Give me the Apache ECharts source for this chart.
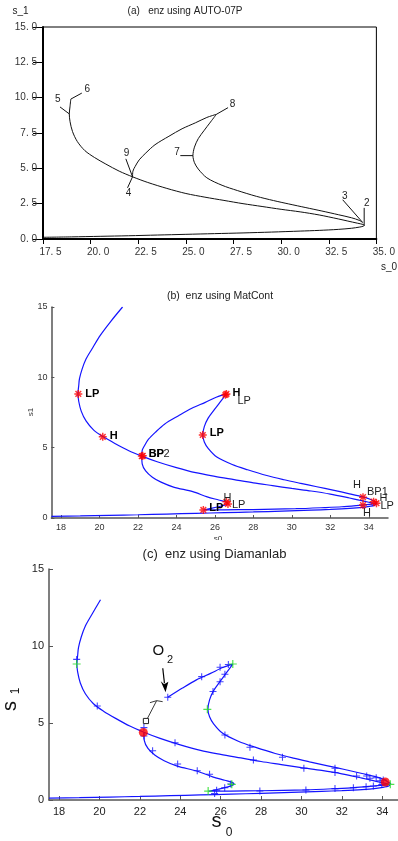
<!DOCTYPE html>
<html><head><meta charset="utf-8">
<script src="https://cdn.jsdelivr.net/npm/echarts@6/dist/echarts.min.js"></script>
<style>html,body{margin:0;padding:0;background:#fff}#c{width:398px;height:841px}</style>
</head><body><div id="c"></div>
<script>
// ---- main equilibrium branch (s0, s1), from lower-left through the fold back up ----
const mainS0 = [17.5, 19, 20.5, 22, 23.5, 25, 26.5, 28, 29.5, 31, 32, 33, 33.7, 34.1, 34.3, 34.37, 34.3, 34.0, 33.5, 33.0, 32.0, 31.0, 30.0, 29.0, 28.0, 27.0, 26.0, 25.0, 24.0, 23.0, 22.2, 21.5, 20.8, 20.2, 19.7, 19.3, 19.05, 18.92, 18.88, 18.92, 18.96, 19.1, 19.3, 19.6, 20.05, 20.6, 21.2];
const mainS1 = [0.12, 0.15, 0.19, 0.23, 0.28, 0.33, 0.38, 0.43, 0.49, 0.56, 0.61, 0.68, 0.76, 0.84, 0.9, 0.97, 1.03, 1.12, 1.27, 1.42, 1.7, 1.92, 2.1, 2.3, 2.5, 2.73, 2.96, 3.22, 3.58, 4.0, 4.4, 4.8, 5.3, 5.77, 6.25, 6.9, 7.6, 8.3, 8.85, 9.4, 9.9, 10.6, 11.3, 12.0, 13.0, 14.0, 15.0];
const autoMainCount = 41;   // AUTO-07P run stops at label 6
const diaMainCount = 45;    // Diamanlab run stops at s1 = 13

// ---- second branch (closed loop through the branch point) ----
const isoS0 = [22.2, 22.22, 22.34, 22.55, 22.9, 23.38, 24.11, 24.8, 25.5, 26.1, 26.6, 26.25, 25.97, 25.65, 25.45, 25.37, 25.45, 25.65, 26.1, 26.9, 27.7, 28.7, 29.6, 30.4, 31.3, 32.14, 33.0, 33.7, 34.1, 34.28, 34.42, 34.2, 33.6, 32.6, 31.7, 30.2, 28.0, 26.5, 25.8, 25.4, 25.8, 26.2, 26.5, 26.66, 26.6, 26.2, 25.6, 24.85, 23.85, 23.2, 22.75, 22.4, 22.22, 22.2];
const isoS1 = [4.4, 4.8, 5.14, 5.6, 6.09, 6.67, 7.27, 7.8, 8.22, 8.6, 8.82, 8.2, 7.7, 7.1, 6.5, 5.9, 5.4, 4.95, 4.33, 3.8, 3.43, 3.02, 2.72, 2.48, 2.22, 1.98, 1.72, 1.5, 1.32, 1.17, 1.05, 0.98, 0.91, 0.8, 0.74, 0.66, 0.6, 0.58, 0.57, 0.57, 0.68, 0.8, 0.92, 1.02, 1.13, 1.28, 1.5, 1.87, 2.2, 2.55, 2.9, 3.35, 3.85, 4.4];
const autoIsoCount = 30;    // AUTO-07P: BP -> 8 -> 7 -> 3
const diaIsoStart = 5;      // Diamanlab: starts at O_2

// ---- (a) AUTO-07P labelled points ----
const autoLabText = ['2', '3', '8', '7', '9', '4', '5', '6'];
const autoLabS0 = [34.36, 34.28, 26.6, 25.37, 22.2, 22.2, 18.88, 18.96];
const autoLabS1 = [0.95, 1.17, 8.82, 5.9, 4.4, 4.4, 8.85, 9.9];

// ---- (b) MatCont special points ----
const mcPtS0 = [18.9, 20.17, 22.2, 22.25, 26.6, 26.55, 25.37, 26.6, 26.68, 25.4, 33.7, 34.25, 34.4, 33.7];
const mcPtS1 = [8.82, 5.77, 4.4, 4.42, 8.82, 8.76, 5.9, 1.15, 1.0, 0.57, 1.48, 1.16, 1.05, 0.92];
const mcLabText = ['LP', 'H', 'BP2', 'BP', 'H', 'LP', 'LP', 'H', 'LP', 'LP', 'H', 'BP1', 'H', 'LP', 'H'];
const mcLabS0 = [18.9, 20.17, 22.2, 22.2, 26.6, 26.6, 25.37, 26.6, 26.68, 25.4, 33.7, 33.7, 34.25, 34.4, 33.7];
const mcLabS1 = [8.82, 5.77, 4.4, 4.4, 8.82, 8.82, 5.9, 1.15, 1.0, 0.57, 1.48, 1.48, 1.16, 1.05, 0.92];

// ---- (c) Diamanlab points ----
const diaPlusS0 = [18.87, 19.89, 22.2, 22.2, 23.74, 27.62, 30.12, 31.66, 32.73, 33.39, 33.89, 23.38, 25.06, 25.97, 26.38, 26.21, 25.97, 25.62, 26.21, 27.45, 29.06, 31.66, 33.23, 33.7, 34.05, 33.98, 33.56, 33.2, 32.57, 31.66, 30.22, 27.94, 25.8, 26.2, 26.5, 25.45, 24.84, 23.87, 22.63, 25.7];
const diaPlusS1 = [9.13, 6.1, 4.7, 4.16, 3.72, 2.6, 2.06, 1.78, 1.56, 1.41, 1.25, 6.67, 8.01, 8.62, 8.8, 8.16, 7.68, 7.05, 4.22, 3.42, 2.77, 2.06, 1.56, 1.45, 1.3, 1.0, 0.91, 0.86, 0.8, 0.74, 0.65, 0.58, 0.64, 0.8, 1.04, 1.67, 1.9, 2.34, 3.2, 0.42];
const diaLpS0 = [18.87, 26.6, 25.34, 25.38, 26.55, 34.4];
const diaLpS1 = [8.83, 8.83, 5.89, 0.58, 1.02, 1.02];
const diaBpS0 = [22.17, 34.15];
const diaBpS1 = [4.39, 1.17];
const o2S0 = [23.38];
const o2S1 = [6.67];
const quiverS0 = [22.3, 22.83];
const quiverS1 = [5.13, 6.45];

// ---- tick values ----
const autoTicks = [17.5, 20, 22.5, 25, 27.5, 30, 32.5, 35];
const evenTicks = [18, 20, 22, 24, 26, 28, 30, 32, 34];

// ---------------- styling (not data) ----------------
const FONT = 'Liberation Sans, Arial, Helvetica, sans-serif';
const autoLabOffsets = [[0,-17.7,2.6,-22.3],[-20,-22.7,-18,-26],[11.7,-6.7,16.2,-10],[-12.6,0,-16,-3],[-6.7,-18,-6,-23.6],[-5,11,-4,16.7],[-9.3,-7,-11.5,-14.6],[11,-6,16.5,-9.7]];
const mcLabStyle = [[7,0,1],[7,-1,1],[7,-2,0],[7,-2,1],[6,-1,1],[11,7,0],[7,-2,1],[-3,-4,0],[4,1,0],[6,-2,1],[-10,-12,0],[4,-5,0],[6,-4,0],[4,3,0],[0,8,0]];
const BLUE = '#1414ff';
const zip = (a, b) => a.map((v, i) => [v, b[i]]);
const plusPath = 'path://M-0.75,-5L0.75,-5L0.75,5L-0.75,5Z M-5,-0.75L5,-0.75L5,0.75L-5,0.75Z';
const starPath = 'path://M-0.9,-5L0.9,-5L0.9,5L-0.9,5Z M-5,-0.9L5,-0.9L5,0.9L-5,0.9Z M-4.2,-2.9L-2.9,-4.2L4.2,2.9L2.9,4.2Z M2.9,-4.2L4.2,-2.9L-2.9,4.2L-4.2,2.9Z';
const fmtA = v => v.toFixed(1).replace('.', '. ');

const lineSeries = (xi, data, color, w) => ({
  type: 'line', xAxisIndex: xi, yAxisIndex: xi, data: data, symbol: 'none', showSymbol: false,
  smooth: 0.3, lineStyle: { color: color, width: w }, z: 2, silent: true
});

const option = {
  animation: false,
  textStyle: { fontFamily: FONT },
  grid: [
    { left: 43, right: 19, top: 27, height: 212, show: true, borderColor: '#000', borderWidth: 1, backgroundColor: 'transparent' },
    { left: 51.4, right: 10, top: 307, height: 211 },
    { left: 49, right: 0, top: 569, height: 231 }
  ],
  xAxis: [
    { gridIndex: 0, type: 'value', min: 17.5, max: 35, interval: 2.5,
      axisLine: { show: true, onZero: false, lineStyle: { color: '#000', width: 2 } },
      axisTick: { show: true, length: 5, lineStyle: { color: '#000', width: 1 } },
      axisLabel: { formatter: fmtA, fontSize: 10, color: '#333', margin: 8, padding: [0, 0, 0, 15] },
      splitLine: { show: false } },
    { gridIndex: 1, type: 'value', min: 17.5, max: 35,
      axisLine: { show: true, onZero: false, lineStyle: { color: '#555', width: 1.5 } },
      axisTick: { show: true, inside: true, length: 3, customValues: evenTicks, lineStyle: { color: '#555' } },
      axisLabel: { customValues: evenTicks, fontSize: 9, color: '#333', margin: 5 },
      splitLine: { show: false } },
    { gridIndex: 2, type: 'value', min: 17.5, max: 34.78,
      axisLine: { show: true, onZero: false, lineStyle: { color: '#555', width: 1.5 } },
      axisTick: { show: true, inside: true, length: 4, customValues: evenTicks, lineStyle: { color: '#555' } },
      axisLabel: { customValues: evenTicks, fontSize: 11, color: '#222', margin: 6 },
      splitLine: { show: false } }
  ],
  yAxis: [
    { gridIndex: 0, type: 'value', min: 0, max: 15, interval: 2.5,
      axisLine: { show: true, onZero: false, lineStyle: { color: '#000', width: 2 } },
      axisTick: { show: true, length: 10, lineStyle: { color: '#000', width: 1 } },
      axisLabel: { formatter: fmtA, fontSize: 10, color: '#333', margin: 6, padding: [0, 0, 5, 0] },
      splitLine: { show: false } },
    { gridIndex: 1, type: 'value', min: 0, max: 15, interval: 5,
      axisLine: { show: true, onZero: false, lineStyle: { color: '#555', width: 1.5 } },
      axisTick: { show: true, inside: true, length: 3, lineStyle: { color: '#555' } },
      axisLabel: { fontSize: 9, color: '#333', margin: 4 },
      splitLine: { show: false } },
    { gridIndex: 2, type: 'value', min: 0, max: 15, interval: 5,
      axisLine: { show: true, onZero: false, lineStyle: { color: '#555', width: 1.5 } },
      axisTick: { show: true, inside: true, length: 4, lineStyle: { color: '#555' } },
      axisLabel: { fontSize: 11, color: '#222', margin: 5 },
      splitLine: { show: false } }
  ],
  graphic: [
    { type: 'text', x: 185, y: 11.5, style: { text: '(a)   enz using AUTO-07P', align: 'center', verticalAlign: 'middle', fontSize: 10, fill: '#222', fontFamily: FONT } },
    { type: 'text', x: 20.5, y: 11, style: { text: 's_1', align: 'center', verticalAlign: 'middle', fontSize: 10, fill: '#222', fontFamily: FONT } },
    { type: 'text', x: 389, y: 267.5, style: { text: 's_0', align: 'center', verticalAlign: 'middle', fontSize: 10, fill: '#222', fontFamily: FONT } },
    { type: 'text', x: 220, y: 296, style: { text: '(b)  enz using MatCont', align: 'center', verticalAlign: 'middle', fontSize: 10.5, fill: '#222', fontFamily: FONT } },
    { type: 'text', x: 30.5, y: 412, rotation: Math.PI / 2, style: { text: 's1', align: 'center', verticalAlign: 'middle', fontSize: 8, fill: '#333', fontFamily: FONT } },
    { type: 'text', x: 218, y: 539, style: { text: 's0', align: 'center', verticalAlign: 'middle', fontSize: 8, fill: '#333', fontFamily: FONT } },
    { type: 'rect', shape: { x: 200, y: 540, width: 40, height: 6 }, style: { fill: '#fff' }, z: 100 },
    { type: 'text', x: 214.5, y: 554, style: { text: '(c)  enz using Diamanlab', align: 'center', verticalAlign: 'middle', fontSize: 13, fill: '#222', fontFamily: FONT } },
    { type: 'text', x: 216.5, y: 821.5, style: { text: 's', align: 'center', verticalAlign: 'middle', fontSize: 20, fill: '#111', fontFamily: FONT } },
    { type: 'text', x: 229, y: 832.5, style: { text: '0', align: 'center', verticalAlign: 'middle', fontSize: 12, fill: '#111', fontFamily: FONT } },
    { type: 'text', x: 10.5, y: 706, rotation: Math.PI / 2, style: { text: 's', align: 'center', verticalAlign: 'middle', fontSize: 20, fill: '#111', fontFamily: FONT } },
    { type: 'text', x: 16, y: 691, rotation: Math.PI / 2, style: { text: '1', align: 'center', verticalAlign: 'middle', fontSize: 12, fill: '#111', fontFamily: FONT } }
  ],
  series: [
    // (a)
    lineSeries(0, zip(mainS0, mainS1).slice(0, autoMainCount), '#111', 1),
    lineSeries(0, zip(isoS0, isoS1).slice(0, autoIsoCount), '#111', 1),
    { type: 'custom', xAxisIndex: 0, yAxisIndex: 0, silent: true, z: 5,
      data: zip(autoLabS0, autoLabS1),
      renderItem: (params, api) => {
        const i = params.dataIndex;
        const p = api.coord([api.value(0), api.value(1)]);
        const o = autoLabOffsets[i];
        return { type: 'group', children: [
          { type: 'line', shape: { x1: p[0], y1: p[1], x2: p[0] + o[0], y2: p[1] + o[1] }, style: { stroke: '#111', lineWidth: 1 } },
          { type: 'text', style: { text: autoLabText[i], x: p[0] + o[2], y: p[1] + o[3], align: 'center', verticalAlign: 'middle', fontSize: 10, fill: '#222', fontFamily: FONT } }
        ] };
      } },
    // (b)
    lineSeries(1, zip(mainS0, mainS1), BLUE, 1.2),
    lineSeries(1, zip(isoS0, isoS1), BLUE, 1.2),
    { type: 'scatter', xAxisIndex: 1, yAxisIndex: 1, data: zip(mcPtS0, mcPtS1), symbol: starPath, symbolSize: 8,
      itemStyle: { color: '#ff0000' }, z: 4, silent: true },
    { type: 'custom', xAxisIndex: 1, yAxisIndex: 1, silent: true, z: 5,
      data: zip(mcLabS0, mcLabS1),
      renderItem: (params, api) => {
        const i = params.dataIndex;
        const p = api.coord([api.value(0), api.value(1)]);
        const s = mcLabStyle[i];
        return { type: 'text', style: { text: mcLabText[i], x: p[0] + s[0], y: p[1] + s[1], align: 'left', verticalAlign: 'middle',
          fontSize: 11, fontWeight: s[2] ? 'bold' : 'normal', fill: s[2] ? '#000' : '#222', fontFamily: FONT } };
      } },
    // (c)
    lineSeries(2, zip(mainS0, mainS1).slice(0, diaMainCount), BLUE, 1.2),
    lineSeries(2, zip(isoS0, isoS1).slice(diaIsoStart), BLUE, 1.2),
    { type: 'scatter', xAxisIndex: 2, yAxisIndex: 2, data: zip(diaPlusS0, diaPlusS1), symbol: plusPath, symbolSize: 7,
      itemStyle: { color: '#1010ff' }, z: 3, silent: true },
    { type: 'scatter', xAxisIndex: 2, yAxisIndex: 2, data: zip(diaLpS0, diaLpS1), symbol: plusPath, symbolSize: 8,
      itemStyle: { color: '#22dd22' }, z: 4, silent: true },
    { type: 'scatter', xAxisIndex: 2, yAxisIndex: 2, data: zip(diaBpS0, diaBpS1), symbol: 'circle', symbolSize: 9,
      itemStyle: { color: '#ff0000' }, z: 5, silent: true },
    { type: 'custom', xAxisIndex: 2, yAxisIndex: 2, silent: true, z: 6,
      data: zip(o2S0, o2S1),
      renderItem: (params, api) => {
        const p = api.coord([api.value(0), api.value(1)]);
        return { type: 'group', children: [
          { type: 'line', shape: { x1: p[0] - 5, y1: p[1] - 29, x2: p[0] - 3.3, y2: p[1] - 14 }, style: { stroke: '#000', lineWidth: 1.2 } },
          { type: 'polygon', shape: { points: [[p[0] - 2.2, p[1] - 5], [p[0] - 7, p[1] - 16], [p[0] - 3.6, p[1] - 13], [p[0] + 0.6, p[1] - 15.5]] }, style: { fill: '#000' } },
          { type: 'text', style: { text: 'O', x: p[0] - 9.4, y: p[1] - 46, align: 'center', verticalAlign: 'middle', fontSize: 15, fill: '#111', fontFamily: FONT } },
          { type: 'text', style: { text: '2', x: p[0] + 2.2, y: p[1] - 37, align: 'center', verticalAlign: 'middle', fontSize: 11, fill: '#111', fontFamily: FONT } }
        ] };
      } },
    { type: 'custom', xAxisIndex: 2, yAxisIndex: 2, silent: true, z: 6,
      data: [[quiverS0[0], quiverS1[0], quiverS0[1], quiverS1[1]]],
      renderItem: (params, api) => {
        const p = api.coord([api.value(0), api.value(1)]);
        const t = api.coord([api.value(2), api.value(3)]);
        return { type: 'group', children: [
          { type: 'rect', shape: { x: p[0] - 2.6, y: p[1] - 2.6, width: 5.2, height: 5.2 }, style: { fill: 'none', stroke: '#222', lineWidth: 1 } },
          { type: 'line', shape: { x1: p[0] + 1.5, y1: p[1] - 2.6, x2: t[0], y2: t[1] }, style: { stroke: '#222', lineWidth: 0.9 } },
          { type: 'polyline', shape: { points: [[t[0] - 6.7, t[1] + 2], [t[0], t[1]], [t[0] + 6, t[1] + 1]] }, style: { fill: 'none', stroke: '#222', lineWidth: 0.9 } }
        ] };
      } }
  ]
};

const chart = echarts.init(document.getElementById('c'), null, { renderer: 'canvas' });
chart.setOption(option);
</script>
</body></html>
